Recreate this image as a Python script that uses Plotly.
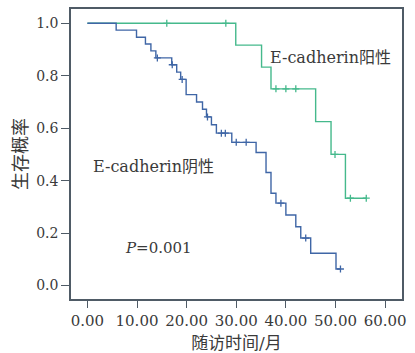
import numpy as np
import plotly.graph_objects as go

# ---- data ----
pos_times = [0, 29.9, 35.1, 37.0, 46.0, 49.1, 52.0, 56.2]
pos_surv = [1.0, 0.917, 0.833, 0.750, 0.625, 0.500, 0.333, 0.333]
pos_censor = [16.0, 27.9, 38.0, 40.0, 42.0, 49.9, 53.0, 56.2]

neg_times = [0, 5.8, 9.9, 11.7, 12.8, 13.8, 17.0, 18.0, 18.8, 19.9, 22.0, 23.2, 24.0,
             25.0, 26.0, 29.1, 34.0, 36.0, 37.0, 38.0, 40.0, 42.0, 43.0, 45.0, 50.1, 51.0]
neg_surv = [1.0, 0.974, 0.947, 0.921, 0.895, 0.868, 0.842, 0.814, 0.786, 0.728, 0.700,
            0.672, 0.643, 0.613, 0.581, 0.546, 0.507, 0.431, 0.352, 0.314, 0.269, 0.224,
            0.181, 0.123, 0.063, 0.063]
neg_censor = [14.1, 17.1, 19.1, 24.2, 27.0, 27.8, 30.0, 32.0, 39.0, 44.0, 51.0]

x_ticks = [0, 10, 20, 30, 40, 50, 60]
y_ticks = [0.0, 0.2, 0.4, 0.6, 0.8, 1.0]

label_pos = "E-cadherin阳性"
label_neg = "E-cadherin阴性"
label_p = "<i>P</i>=0.001"
x_title = "随访时间/月"
y_title = "生存概率"

GREEN = "#45b98c"
BLUE = "#3f66a6"
FRAME = "#4f5b66"
TEXT = "#3a3a3a"
FONT = "DejaVu Serif, Noto Sans CJK SC, serif"


def step_at(times, surv, t):
    idx = np.searchsorted(np.array(times), t, side="right") - 1
    return [surv[i] for i in idx]


fig = go.Figure()
for times, surv, cens, col in [(pos_times, pos_surv, pos_censor, GREEN),
                               (neg_times, neg_surv, neg_censor, BLUE)]:
    fig.add_trace(go.Scatter(x=times, y=surv, mode="lines", line_shape="hv",
                             line=dict(color=col, width=1.4), hoverinfo="skip",
                             showlegend=False))
    fig.add_trace(go.Scatter(x=cens, y=step_at(times, surv, cens), mode="markers",
                             marker=dict(symbol="cross-thin", size=5,
                                         line=dict(color=col, width=1.3)),
                             showlegend=False))

fig.add_annotation(x=48.9, y=0.871, text=label_pos, showarrow=False,
                   font=dict(size=16, color=TEXT, family=FONT))
fig.add_annotation(x=13.4, y=0.453, text=label_neg, showarrow=False,
                   font=dict(size=16, color=TEXT, family=FONT))
fig.add_annotation(x=14.4, y=0.144, text=label_p, showarrow=False,
                   font=dict(size=15, color=TEXT, family=FONT))

fig.update_layout(
    width=415, height=353,
    margin=dict(l=71, r=13, t=9, b=54),
    paper_bgcolor="white", plot_bgcolor="white",
    font=dict(family=FONT, color=TEXT),
)
fig.update_xaxes(range=[-3.3, 63.4], tickvals=x_ticks, tickformat=".2f",
                 ticks="outside", ticklen=7, tickwidth=1.3, tickcolor=FRAME,
                 showline=True, linecolor=FRAME, linewidth=1.5, mirror=True,
                 showgrid=False, zeroline=False, automargin=False,
                 tickfont=dict(size=15, family=FONT, color=TEXT),
                 title=dict(text=x_title, font=dict(size=17, family=FONT, color=TEXT),
                            standoff=9))
fig.update_yaxes(range=[-0.0515, 1.0546], tickvals=y_ticks, tickformat=".1f",
                 ticks="outside", ticklen=8, tickwidth=1.3, tickcolor=FRAME,
                 showline=True, linecolor=FRAME, linewidth=1.5, mirror=True,
                 showgrid=False, zeroline=False, automargin=False,
                 tickfont=dict(size=14, family=FONT, color=TEXT),
                 title=dict(text=y_title, font=dict(size=18, family=FONT, color=TEXT),
                            standoff=4))

fig.write_html("out.html")
